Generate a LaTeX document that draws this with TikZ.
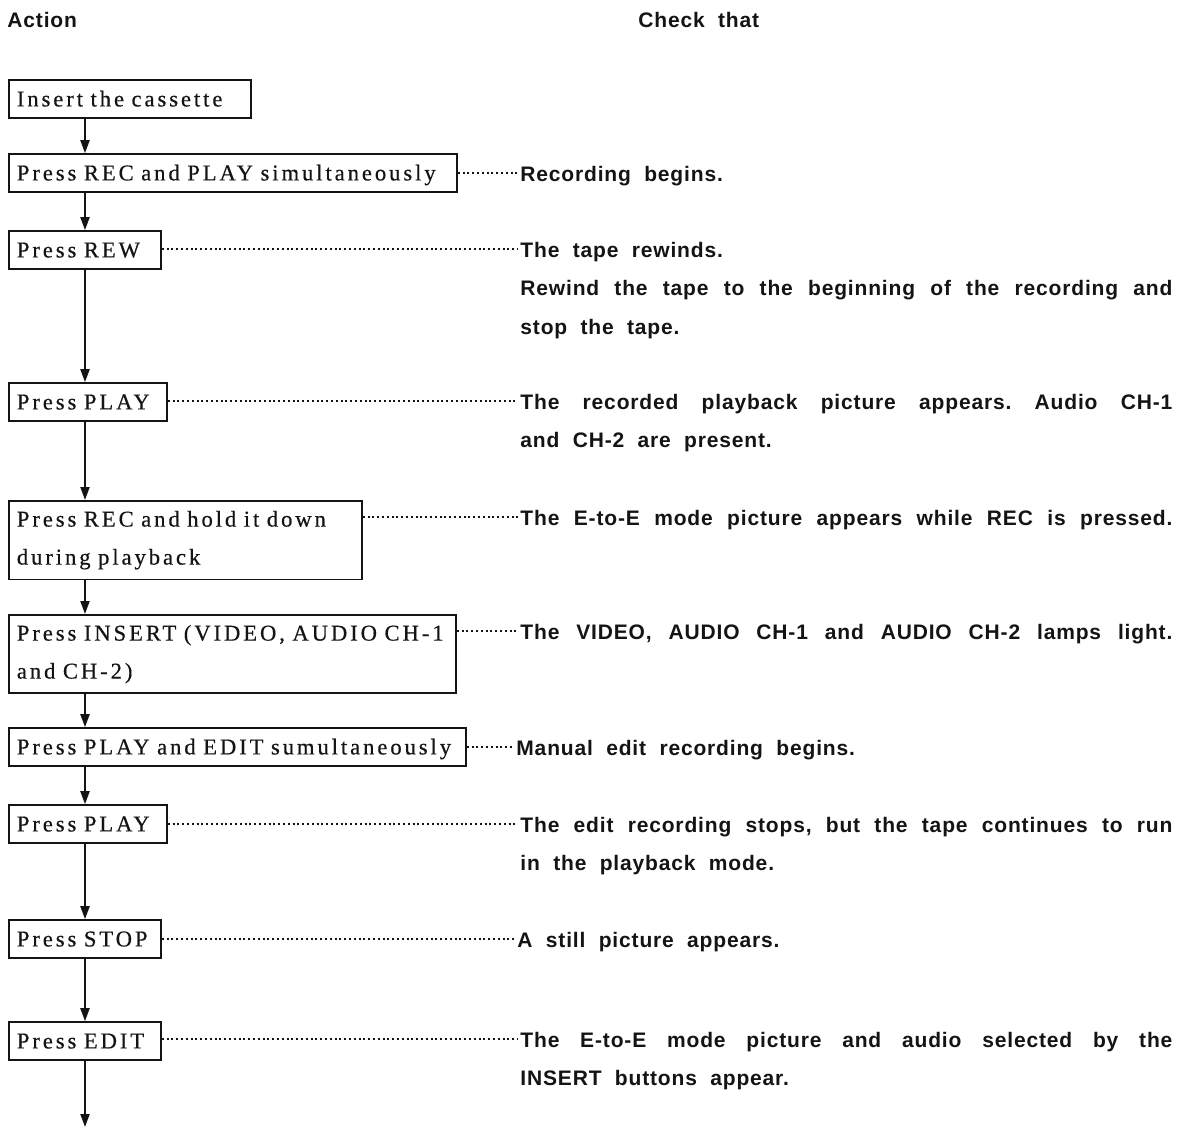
\documentclass[tikz,border=0pt]{standalone}
\usepackage{fontspec}
\usetikzlibrary{arrows.meta}
\definecolor{ManInk}{HTML}{141414}
\newfontface\ActFont[LetterSpace=13,FakeBold=0.5]{Liberation Serif}
\newfontface\ChkFont[LetterSpace=4,WordSpace=2]{Liberation Sans Bold}
\newcommand{\ActSetup}{\ActFont\fontsize{11.3pt}{19pt}\selectfont
  \spaceskip=5.2pt plus 1pt\relax}
\newcommand{\ChkLine}[1]{\makebox[326pt][s]{#1}}
\frenchspacing

\begin{document}
\begin{tikzpicture}[x=0.5pt,y=-0.5pt,
          onebox/.style={draw=ManInk,line width=0.9pt,anchor=west,align=left,
            inner xsep=4pt,inner ysep=5.75pt,text height=7.4pt,text depth=0pt,
            text=ManInk,font=\ActSetup},
          twobox/.style={draw=ManInk,line width=0.9pt,anchor=north west,
            align=left,inner xsep=4pt,inner ysep=5pt,
            text=ManInk,font=\ActSetup},
          check/.style={anchor=north west,inner sep=0pt,align=left,
            text=ManInk,font=\ChkFont\fontsize{10.5pt}{19.25pt}\selectfont},
          head/.style={anchor=north west,inner sep=0pt,
            text=ManInk,font=\ChkFont\fontsize{10.5pt}{12pt}\selectfont},
          flow/.style={draw=ManInk,line width=1pt,
            -{Triangle[width=4.5pt,length=6.5pt]}},
          link/.style={draw=ManInk,line width=0.6pt,
            dash pattern=on 1pt off 1.4pt,shorten >=1pt}
        ]
        \useasboundingbox[fill=white] (0,0) rectangle (1181,1128);
        \node[head] (hAct) at (7,12) {Action};
        \node[head] (hChk) at (638,12) {Check that};
        \coordinate (r1) at (85,99);
        \coordinate (r2) at (85,173);
        \coordinate (r3) at (85,249);
        \coordinate (r4) at (85,401);
        \coordinate (r5) at (85,517);
        \coordinate (r6) at (85,631);
        \coordinate (r7) at (85,747);
        \coordinate (r8) at (85,824);
        \coordinate (r9) at (85,939);
        \coordinate (r10) at (85,1039);
        \coordinate (tail) at (85,1127);
        \node[onebox,text width=113pt] (a1) at (8,99) {Insert the cassette};
        \node[onebox,text width=216pt] (a2) at (8,173)
          {\mbox{Press REC and PLAY simultaneously}};
        \node[onebox,text width=68pt] (a3) at (8,250) {Press REW};
        \node[onebox,text width=71pt] (a4) at (8,402) {Press PLAY};
        \node[twobox,text width=168.5pt] (a5) at (8,500)
          {\mbox{Press REC and hold it down}\\during playback};
        \node[twobox,text width=215.5pt] (a6) at (8,614)
          {\mbox{Press INSERT (VIDEO, AUDIO CH-1}\\and CH-2)};
        \node[onebox,text width=220.5pt] (a7) at (8,747)
          {\mbox{Press PLAY and EDIT sumultaneously}};
        \node[onebox,text width=71pt] (a8) at (8,824) {Press PLAY};
        \node[onebox,text width=68pt] (a9) at (8,939) {Press STOP};
        \node[onebox,text width=68pt] (a10) at (8,1041) {Press EDIT};
        \node[check] (c2) at (520,165.5) {Recording begins.};
        \node[check] (c3) at (520,241.5) {The tape rewinds.\\
          \ChkLine{Rewind the tape to the beginning of the recording and}\\
          stop the tape.};
        \node[check] (c4) at (520,393.5)
          {\ChkLine{The recorded playback picture appears. Audio CH-1}\\
          and CH-2 are present.};
        \node[check] (c5) at (520,509.5)
          {\ChkLine{The E-to-E mode picture appears while REC is pressed.}};
        \node[check] (c6) at (520,623.5)
          {\ChkLine{The VIDEO, AUDIO CH-1 and AUDIO CH-2 lamps light.}};
        \node[check] (c7) at (516,739.5) {Manual edit recording begins.};
        \node[check] (c8) at (520,816.5)
          {\ChkLine{The edit recording stops, but the tape continues to run}\\
          in the playback mode.};
        \node[check] (c9) at (517,931.5) {A still picture appears.};
        \node[check] (c10) at (520,1031.5)
          {\ChkLine{The E-to-E mode picture and audio selected by the}\\
          INSERT buttons appear.};
        \foreach \i [evaluate=\i as \j using int(\i+1)] in {1,...,9} {
          \draw[flow] (a\i.south -| r1) -- (a\j.north -| r1);
        }
        \draw[flow] (a10.south -| r1) -- (tail);
        \foreach \i in {2,...,10} {
          \draw[link] (a\i.east |- r\i) -- (c\i.west |- r\i);
        }
      \end{tikzpicture}
\end{document}
